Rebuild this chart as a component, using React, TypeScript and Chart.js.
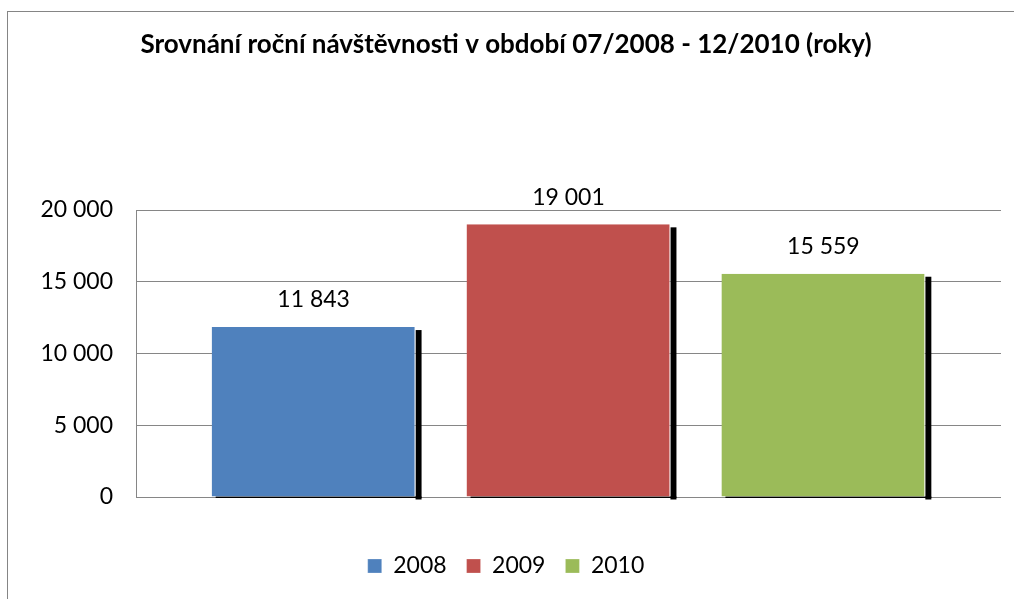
import React, { useEffect, useRef } from 'react';
import { Chart, registerables } from 'chart.js';

Chart.register(...registerables);

const categories = ['Návštěvnost'];
const seriesLabels = ['2008', '2009', '2010'];
const seriesValues = [11843, 19001, 15559];
const seriesColors = ['#4F81BD', '#C0504D', '#9BBB59'];
const yMin = 0;
const yMax = 20000;
const yStep = 5000;
const titleText = 'Srovnání roční návštěvnosti v období 07/2008 - 12/2010 (roky)';

const FONT = 'Lato, "Noto Sans", sans-serif';

const fmt = (n: number) => String(n).replace(/\B(?=(\d{3})+(?!\d))/g, ' ');

const shadowPlugin = {
  id: 'barShadow',
  beforeDatasetsDraw(chart: any) {
    const ctx = chart.ctx;
    ctx.save();
    ctx.fillStyle = '#000';
    chart.getSortedVisibleDatasetMetas().forEach((meta: any) => {
      meta.data.forEach((el: any) => {
        const { x, y, base, width } = el.getProps(['x', 'y', 'base', 'width'], true);
        const left = x - width / 2;
        // right-hand strip
        ctx.fillRect(left + width, y + 3, 6, base - y);
        // thin bottom line
        ctx.fillRect(left + 4, base, width + 2, 1.5);
      });
    });
    ctx.restore();
  },
};

const labelPlugin = {
  id: 'valueLabels',
  afterDatasetsDraw(chart: any) {
    const ctx = chart.ctx;
    ctx.save();
    ctx.fillStyle = '#000';
    ctx.font = `23px ${FONT}`;
    ctx.textAlign = 'center';
    ctx.textBaseline = 'middle';
    chart.getSortedVisibleDatasetMetas().forEach((meta: any) => {
      const ds = chart.data.datasets[meta.index];
      meta.data.forEach((el: any, i: number) => {
        const { x, y } = el.getProps(['x', 'y'], true);
        ctx.fillText(fmt(ds.data[i] as number), x, y - 27);
      });
    });
    ctx.restore();
  },
};

export default function App() {
  const ref = useRef<HTMLCanvasElement | null>(null);

  useEffect(() => {
    if (!ref.current) return;
    const chart = new Chart(ref.current, {
      type: 'bar',
      data: {
        labels: categories,
        datasets: seriesLabels.map((label, i) => ({
          label,
          data: [seriesValues[i]],
          backgroundColor: seriesColors[i],
          borderColor: '#ffffff',
          borderWidth: { top: 0, right: 1, bottom: 0, left: 0 },
          borderSkipped: false,
          categoryPercentage: 0.884,
          barPercentage: 0.8,
          clip: false as any,
        })),
      },
      options: {
        animation: false,
        responsive: false,
        maintainAspectRatio: false,
        layout: { padding: { left: 11, right: 13, top: 0, bottom: 11.5 } },
        plugins: {
          title: {
            display: true,
            text: titleText,
            color: '#000',
            font: { family: FONT, size: 26, weight: 'bold', lineHeight: 1.2 },
            padding: { top: 29.4, bottom: 149.4 },
          },
          legend: {
            position: 'bottom',
            labels: {
              color: '#000',
              font: { family: FONT, size: 23 },
              boxWidth: 14,
              boxHeight: 14,
              padding: 20,
            },
          },
          tooltip: { enabled: false },
        },
        scales: {
          x: {
            ticks: { display: false },
            grid: { display: false },
            border: { display: false },
            afterFit: (s: any) => { s.height = 37.5; },
          },
          y: {
            min: yMin,
            max: yMax,
            ticks: {
              stepSize: yStep,
              color: '#000',
              padding: 23,
              font: { family: FONT, size: 23 },
              callback: (v: any) => fmt(Number(v)),
            },
            grid: { color: '#868686', lineWidth: 1, drawTicks: false },
            border: { display: true, color: '#868686', width: 1 },
            afterFit: (s: any) => { s.width = 125; },
          },
        },
      },
      plugins: [shadowPlugin, labelPlugin],
    });
    return () => chart.destroy();
  }, []);

  return (
    <div style={{ position: 'fixed', left: 0, top: 0, width: 1014, height: 599, overflow: 'hidden', background: '#fff' }}>
      <div
        style={{
          position: 'absolute',
          left: 7,
          top: 11,
          width: 1100,
          height: 700,
          borderLeft: '1px solid #858585',
          borderTop: '1px solid #858585',
        }}
      />
      <canvas ref={ref} width={1014} height={599} style={{ position: 'absolute', left: 0, top: 0, display: 'block' }} />
    </div>
  );
}
